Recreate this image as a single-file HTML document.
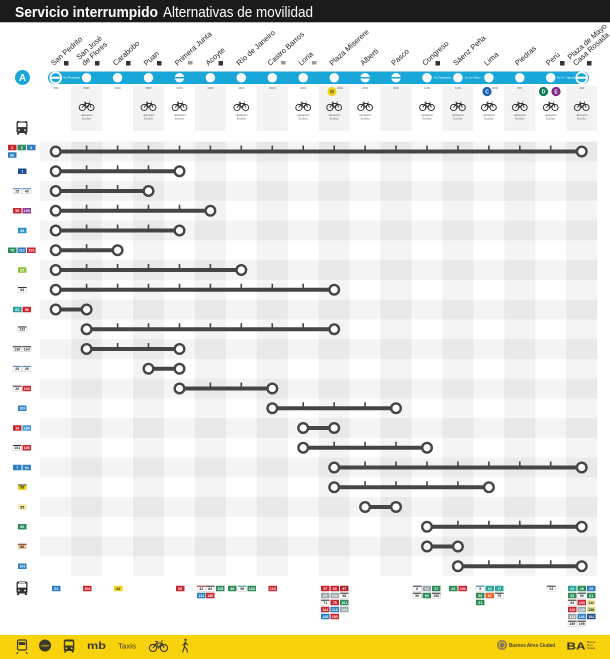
<!DOCTYPE html>
<html><head><meta charset="utf-8">
<style>
html,body{margin:0;padding:0;background:#fff;}
svg{display:block;font-family:"Liberation Sans",sans-serif;}
.l{stroke:#454545;stroke-width:4;fill:none}
.t{stroke:#454545;stroke-width:1.6;fill:none}
.e{fill:#fff;stroke:#454545;stroke-width:2.4}
.st{font-size:7.5px;fill:#222}
.bt{font-size:3.6px;font-weight:bold;fill:#fff;text-anchor:middle}
.bk{font-size:3.6px;font-weight:bold;fill:#222;text-anchor:middle}
.sm{font-size:2.8px;fill:#666;text-anchor:middle}
.bw{fill:#fff;stroke:#bbb;stroke-width:.4}
</style></head><body>
<svg width="610" height="659" viewBox="0 0 610 659">
<!-- title -->
<rect x="0" y="0" width="610" height="22.3" fill="#1b1b1b"/>
<text x="15" y="17" font-size="15" font-weight="bold" fill="#fff" textLength="143" lengthAdjust="spacingAndGlyphs">Servicio interrumpido</text>
<text x="163" y="17" font-size="15" fill="#fff" textLength="150" lengthAdjust="spacingAndGlyphs">Alternativas de movilidad</text>

<!-- header column boxes -->
<g fill="#f3f3f3">
<rect x="71.1" y="86" width="30.94" height="45"/>
<rect x="133" y="86" width="30.94" height="45"/>
<rect x="194.9" y="86" width="30.94" height="45"/>
<rect x="256.8" y="86" width="30.94" height="45"/>
<rect x="318.7" y="86" width="30.94" height="45"/>
<rect x="380.5" y="86" width="30.94" height="45"/>
<rect x="442.4" y="86" width="30.94" height="45"/>
<rect x="504.3" y="86" width="30.94" height="45"/>
<rect x="566.2" y="86" width="30.94" height="45"/>
</g>

<!-- station labels -->
<g class="st">
<text transform="translate(53.7,66) rotate(-42)">San Pedrito</text>
<text transform="translate(84.6,66) rotate(-42)"><tspan x="0" y="-8">San José</tspan><tspan x="0" y="0">de Flores</tspan></text>
<text transform="translate(115.6,66) rotate(-42)">Carabobo</text>
<text transform="translate(146.5,66) rotate(-42)">Puan</text>
<text transform="translate(177.5,66) rotate(-42)">Primera Junta</text>
<text transform="translate(208.4,66) rotate(-42)">Acoyte</text>
<text transform="translate(239.3,66) rotate(-42)">Río de Janeiro</text>
<text transform="translate(270.3,66) rotate(-42)">Castro Barros</text>
<text transform="translate(301.2,66) rotate(-42)">Loria</text>
<text transform="translate(332.2,66) rotate(-42)">Plaza Miserere</text>
<text transform="translate(363.1,66) rotate(-42)">Alberti</text>
<text transform="translate(394,66) rotate(-42)">Pasco</text>
<text transform="translate(425,66) rotate(-42)">Congreso</text>
<text transform="translate(455.9,66) rotate(-42)">Sáenz Peña</text>
<text transform="translate(486.9,66) rotate(-42)">Lima</text>
<text transform="translate(517.8,66) rotate(-42)">Piedras</text>
<text transform="translate(548.7,66) rotate(-42)">Perú</text>
<text transform="translate(575.7,66) rotate(-42)"><tspan x="0" y="-8">Plaza de Mayo</tspan><tspan x="0" y="0">Casa Rosada</tspan></text>
</g>
<!-- accessibility icons -->
<g fill="#333">
<rect x="64" y="61" width="4.5" height="4.5"/>
<rect x="95" y="61" width="4.5" height="4.5"/>
<rect x="126" y="61" width="4.5" height="4.5"/>
<rect x="157" y="61" width="4.5" height="4.5"/>
<rect x="218.5" y="61" width="4.5" height="4.5"/>
<rect x="435.5" y="61" width="4.5" height="4.5"/>
<rect x="560" y="61" width="4.5" height="4.5"/>
<rect x="587" y="61" width="4.5" height="4.5"/>
</g>
<g fill="#999">
<rect x="188" y="61" width="4.5" height="3.5"/>
<rect x="281" y="61" width="4.5" height="3.5"/>
<rect x="312" y="61" width="4.5" height="3.5"/>
</g>

<!-- Line A -->
<circle cx="22.5" cy="77.5" r="7.5" fill="#19a6d8"/>
<text x="22.5" y="81.2" font-size="10" font-weight="bold" fill="#fff" text-anchor="middle">A</text>
<rect x="48" y="71.5" width="541" height="12.5" rx="6.25" fill="#19a6d8"/>
<g fill="#fff">
<circle cx="86.6" cy="77.75" r="4.7"/><circle cx="117.6" cy="77.75" r="4.7"/><circle cx="148.5" cy="77.75" r="4.7"/>
<circle cx="179.5" cy="77.75" r="4.7"/><circle cx="210.4" cy="77.75" r="4.7"/><circle cx="241.3" cy="77.75" r="4.7"/>
<circle cx="272.3" cy="77.75" r="4.7"/><circle cx="303.2" cy="77.75" r="4.7"/><circle cx="334.2" cy="77.75" r="4.7"/>
<circle cx="365.1" cy="77.75" r="4.7"/><circle cx="396" cy="77.75" r="4.7"/><circle cx="427" cy="77.75" r="4.7"/>
<circle cx="457.9" cy="77.75" r="4.7"/><circle cx="488.9" cy="77.75" r="4.7"/><circle cx="519.8" cy="77.75" r="4.7"/>
<circle cx="550.7" cy="77.75" r="4.7"/>
<circle cx="55.7" cy="77.75" r="6.3"/><circle cx="581.7" cy="77.75" r="6.3"/>
</g>
<g fill="#19a6d8">
<circle cx="55.7" cy="77.75" r="4.6"/><circle cx="581.7" cy="77.75" r="4.6"/>
<rect x="174.8" y="77" width="9.4" height="1.5"/>
<rect x="360.4" y="77" width="9.4" height="1.5"/>
<rect x="391.3" y="77" width="9.4" height="1.5"/>
</g>
<g fill="#fff">
<rect x="51.2" y="76.7" width="9" height="2.1"/><rect x="577.2" y="76.7" width="9" height="2.1"/>
</g>
<g font-size="2.8" fill="#fff">
<text x="63" y="78.7">Av. Rivadavia</text>
<text x="434" y="78.7">Av. Rivadavia</text>
<text x="465" y="78.7">Av. de Mayo</text>
<text x="557" y="78.7">Av. H. Yrigoyen</text>
</g>
<g class="sm">
<text x="55.7" y="89">7000</text><text x="86.6" y="89">6900</text><text x="117.6" y="89">6400</text>
<text x="148.5" y="89">5900</text><text x="179.5" y="89">5400</text><text x="210.4" y="89">4900</text>
<text x="241.3" y="89">4400</text><text x="272.3" y="89">3900</text><text x="303.2" y="89">3400</text>
<text x="340" y="89">2900</text><text x="365.1" y="89">2400</text><text x="396" y="89">1900</text>
<text x="427" y="89">1400</text><text x="457.9" y="89">1200</text><text x="495" y="89">1000</text>
<text x="519.8" y="89">800</text><text x="557" y="89">600</text><text x="581.7" y="89">400</text>
</g>
<circle cx="332" cy="91.5" r="4.6" fill="#f2d31b"/><text x="332" y="93.3" font-size="5" font-weight="bold" fill="#333" text-anchor="middle">H</text>
<circle cx="487" cy="91.5" r="4.6" fill="#1b5fae"/><text x="487" y="93.3" font-size="5" font-weight="bold" fill="#fff" text-anchor="middle">C</text>
<circle cx="543.5" cy="91.5" r="4.6" fill="#0f7d5a"/><text x="543.5" y="93.3" font-size="5" font-weight="bold" fill="#fff" text-anchor="middle">D</text>
<circle cx="556" cy="91.5" r="4.6" fill="#7d2a8c"/><text x="556" y="93.3" font-size="5" font-weight="bold" fill="#fff" text-anchor="middle">E</text>

<!-- bikes -->
<defs>
<g id="bike" fill="none" stroke="#333" stroke-width="1">
<circle cx="-4.3" cy="1.5" r="3.1"/><circle cx="4.3" cy="1.5" r="3.1"/>
<path d="M-4.3 1.5 L-1.5 -2.5 L3 -2.5 L4.3 1.5 M-1.5 -2.5 L0 1.5 L3 -2.5 M-2.5 -3.8 H-0.5 M2.5 -4 L3.5 -4"/>
</g>
</defs>
<g>
<use href="#bike" x="86.6" y="106"/><use href="#bike" x="148.5" y="106"/><use href="#bike" x="179.5" y="106"/>
<use href="#bike" x="241.3" y="106"/><use href="#bike" x="303.2" y="106"/><use href="#bike" x="334.2" y="106"/>
<use href="#bike" x="365.1" y="106"/><use href="#bike" x="427" y="106"/><use href="#bike" x="457.9" y="106"/>
<use href="#bike" x="488.9" y="106"/><use href="#bike" x="519.8" y="106"/><use href="#bike" x="550.7" y="106"/>
<use href="#bike" x="581.7" y="106"/>
</g>
<g class="sm" fill="#777">
<text x="86.6" y="116">+Estación</text><text x="86.6" y="119.5">Ecobici</text>
<text x="148.5" y="116">+Estación</text><text x="148.5" y="119.5">Ecobici</text>
<text x="179.5" y="116">+Estación</text><text x="179.5" y="119.5">Ecobici</text>
<text x="241.3" y="116">+Estación</text><text x="241.3" y="119.5">Ecobici</text>
<text x="303.2" y="116">+Estación</text><text x="303.2" y="119.5">Ecobici</text>
<text x="334.2" y="116">+Estación</text><text x="334.2" y="119.5">Ecobici</text>
<text x="365.1" y="116">+Estación</text><text x="365.1" y="119.5">Ecobici</text>
<text x="427" y="116">+Estación</text><text x="427" y="119.5">Ecobici</text>
<text x="457.9" y="116">+Estación</text><text x="457.9" y="119.5">Ecobici</text>
<text x="488.9" y="116">+Estación</text><text x="488.9" y="119.5">Ecobici</text>
<text x="519.8" y="116">+Estación</text><text x="519.8" y="119.5">Ecobici</text>
<text x="550.7" y="116">+Estación</text><text x="550.7" y="119.5">Ecobici</text>
<text x="581.7" y="116">+Estación</text><text x="581.7" y="119.5">Ecobici</text>
</g>

<!-- bus icons -->
<defs>
<g id="bus">
<rect x="-5.5" y="-6.5" width="11" height="12" rx="2" fill="#333"/>
<rect x="-4.2" y="-4.6" width="8.4" height="4.2" fill="#fff"/>
<rect x="-3" y="-6" width="6" height="0.8" fill="#fff"/>
<circle cx="-3" cy="2.5" r="0.9" fill="#fff"/><circle cx="3" cy="2.5" r="0.9" fill="#fff"/>
<rect x="-5" y="5.5" width="2.2" height="1.5" fill="#333"/><rect x="2.8" y="5.5" width="2.2" height="1.5" fill="#333"/>
</g>
</defs>
<use href="#bus" x="22" y="127.5"/>
<use href="#bus" x="22" y="588"/>

<!-- chart stripes -->
<g fill="#000" fill-opacity=".045">
<rect x="40" y="141.625" width="557.5" height="19.75"/>
<rect x="40" y="181.125" width="557.5" height="19.75"/>
<rect x="40" y="220.625" width="557.5" height="19.75"/>
<rect x="40" y="260.125" width="557.5" height="19.75"/>
<rect x="40" y="299.625" width="557.5" height="19.75"/>
<rect x="40" y="339.125" width="557.5" height="19.75"/>
<rect x="40" y="378.625" width="557.5" height="19.75"/>
<rect x="40" y="418.125" width="557.5" height="19.75"/>
<rect x="40" y="457.625" width="557.5" height="19.75"/>
<rect x="40" y="497.125" width="557.5" height="19.75"/>
<rect x="40" y="536.625" width="557.5" height="19.75"/>
<rect x="71.1" y="141.6" width="30.94" height="434.5"/>
<rect x="133" y="141.6" width="30.94" height="434.5"/>
<rect x="194.9" y="141.6" width="30.94" height="434.5"/>
<rect x="256.8" y="141.6" width="30.94" height="434.5"/>
<rect x="318.7" y="141.6" width="30.94" height="434.5"/>
<rect x="380.5" y="141.6" width="30.94" height="434.5"/>
<rect x="442.4" y="141.6" width="30.94" height="434.5"/>
<rect x="504.3" y="141.6" width="30.94" height="434.5"/>
<rect x="566.2" y="141.6" width="30.94" height="434.5"/>
</g>

<!-- routes -->
<g class="l">
<path d="M55.7 151.5H581.7"/>
<path d="M55.7 171.25H179.5"/>
<path d="M55.7 191H148.5"/>
<path d="M55.7 210.75H210.4"/>
<path d="M55.7 230.5H179.5"/>
<path d="M55.7 250.25H117.6"/>
<path d="M55.7 270H241.3"/>
<path d="M55.7 289.75H334.2"/>
<path d="M55.7 309.5H86.6"/>
<path d="M86.6 329.25H334.2"/>
<path d="M86.6 349H179.5"/>
<path d="M148.5 368.75H179.5"/>
<path d="M179.5 388.5H272.3"/>
<path d="M272.3 408.25H396"/>
<path d="M303.2 428H334.2"/>
<path d="M303.2 447.75H427"/>
<path d="M334.2 467.5H581.7"/>
<path d="M334.2 487.25H488.9"/>
<path d="M365.1 507H396"/>
<path d="M427 526.75H581.7"/>
<path d="M427 546.5H457.9"/>
<path d="M457.9 566.25H581.7"/>
</g>
<g class="t">
<path d="M86.6 145.5v6M117.6 145.5v6M148.5 145.5v6M179.5 145.5v6M210.4 145.5v6M241.3 145.5v6M272.3 145.5v6M303.2 145.5v6M334.2 145.5v6M365.1 145.5v6M396 145.5v6M427 145.5v6M457.9 145.5v6M488.9 145.5v6M519.8 145.5v6M550.7 145.5v6"/>
<path d="M86.6 165.25v6M117.6 165.25v6M148.5 165.25v6"/>
<path d="M86.6 185v6M117.6 185v6"/>
<path d="M86.6 204.75v6M117.6 204.75v6M148.5 204.75v6M179.5 204.75v6"/>
<path d="M86.6 224.5v6M117.6 224.5v6M148.5 224.5v6"/>
<path d="M86.6 244.25v6"/>
<path d="M86.6 264v6M117.6 264v6M148.5 264v6M179.5 264v6M210.4 264v6"/>
<path d="M86.6 283.75v6M117.6 283.75v6M148.5 283.75v6M179.5 283.75v6M210.4 283.75v6M241.3 283.75v6M272.3 283.75v6M303.2 283.75v6"/>
<path d="M117.6 323.25v6M148.5 323.25v6M179.5 323.25v6M210.4 323.25v6M241.3 323.25v6M272.3 323.25v6M303.2 323.25v6"/>
<path d="M117.6 343v6M148.5 343v6"/>
<path d="M210.4 382.5v6M241.3 382.5v6"/>
<path d="M303.2 402.25v6M334.2 402.25v6M365.1 402.25v6"/>
<path d="M334.2 441.75v6M365.1 441.75v6M396 441.75v6"/>
<path d="M365.1 461.5v6M396 461.5v6M427 461.5v6M457.9 461.5v6M488.9 461.5v6M519.8 461.5v6M550.7 461.5v6"/>
<path d="M365.1 481.25v6M396 481.25v6M427 481.25v6M457.9 481.25v6"/>
<path d="M457.9 520.75v6M488.9 520.75v6M519.8 520.75v6M550.7 520.75v6"/>
<path d="M488.9 560.25v6M519.8 560.25v6M550.7 560.25v6"/>
</g>
<g class="e">
<circle cx="55.7" cy="151.5" r="4.8"/><circle cx="581.7" cy="151.5" r="4.8"/>
<circle cx="55.7" cy="171.25" r="4.8"/><circle cx="179.5" cy="171.25" r="4.8"/>
<circle cx="55.7" cy="191" r="4.8"/><circle cx="148.5" cy="191" r="4.8"/>
<circle cx="55.7" cy="210.75" r="4.8"/><circle cx="210.4" cy="210.75" r="4.8"/>
<circle cx="55.7" cy="230.5" r="4.8"/><circle cx="179.5" cy="230.5" r="4.8"/>
<circle cx="55.7" cy="250.25" r="4.8"/><circle cx="117.6" cy="250.25" r="4.8"/>
<circle cx="55.7" cy="270" r="4.8"/><circle cx="241.3" cy="270" r="4.8"/>
<circle cx="55.7" cy="289.75" r="4.8"/><circle cx="334.2" cy="289.75" r="4.8"/>
<circle cx="55.7" cy="309.5" r="4.8"/><circle cx="86.6" cy="309.5" r="4.8"/>
<circle cx="86.6" cy="329.25" r="4.8"/><circle cx="334.2" cy="329.25" r="4.8"/>
<circle cx="86.6" cy="349" r="4.8"/><circle cx="179.5" cy="349" r="4.8"/>
<circle cx="148.5" cy="368.75" r="4.8"/><circle cx="179.5" cy="368.75" r="4.8"/>
<circle cx="179.5" cy="388.5" r="4.8"/><circle cx="272.3" cy="388.5" r="4.8"/>
<circle cx="272.3" cy="408.25" r="4.8"/><circle cx="396" cy="408.25" r="4.8"/>
<circle cx="303.2" cy="428" r="4.8"/><circle cx="334.2" cy="428" r="4.8"/>
<circle cx="303.2" cy="447.75" r="4.8"/><circle cx="427" cy="447.75" r="4.8"/>
<circle cx="334.2" cy="467.5" r="4.8"/><circle cx="581.7" cy="467.5" r="4.8"/>
<circle cx="334.2" cy="487.25" r="4.8"/><circle cx="488.9" cy="487.25" r="4.8"/>
<circle cx="365.1" cy="507" r="4.8"/><circle cx="396" cy="507" r="4.8"/>
<circle cx="427" cy="526.75" r="4.8"/><circle cx="581.7" cy="526.75" r="4.8"/>
<circle cx="427" cy="546.5" r="4.8"/><circle cx="457.9" cy="546.5" r="4.8"/>
<circle cx="457.9" cy="566.25" r="4.8"/><circle cx="581.7" cy="566.25" r="4.8"/>
</g>

<!-- left badges -->
<g>
<rect x="8" y="144.75" width="8.5" height="5.5" fill="#c9252f"/><text x="12.25" y="148.8" class="bt">2</text>
<rect x="17.5" y="144.75" width="8.5" height="5.5" fill="#2e8b57"/><text x="21.75" y="148.8" class="bt">5</text>
<rect x="27" y="144.75" width="8.5" height="5.5" fill="#2b7fc1"/><text x="31.25" y="148.8" class="bt">8</text>
<rect x="8" y="152.25" width="8.5" height="5.5" fill="#2b7fc1"/><text x="12.25" y="156.3" class="bt">86</text>

<rect x="18" y="168.5" width="8.5" height="5.5" fill="#1f4e8c"/><text x="22.25" y="172.55" class="bt">1</text>

<rect x="13" y="188.25" width="8.5" height="5.5" class="bw"/><rect x="13" y="188.25" width="8.5" height="1" fill="#5a8fc4"/><text x="17.25" y="192.3" class="bk">25</text>
<rect x="22.5" y="188.25" width="8.5" height="5.5" class="bw"/><rect x="22.5" y="188.25" width="8.5" height="1" fill="#5a8fc4"/><text x="26.75" y="192.3" class="bk">49</text>

<rect x="13" y="208" width="8.5" height="5.5" fill="#c9252f"/><text x="17.25" y="212.05" class="bt">55</text>
<rect x="22.5" y="208" width="8.5" height="5.5" fill="#8a3c96"/><text x="26.75" y="212.05" class="bt">105</text>

<rect x="18" y="227.75" width="8.5" height="5.5" fill="#2b8fc9"/><text x="22.25" y="231.8" class="bt">53</text>

<rect x="8" y="247.5" width="8.5" height="5.5" fill="#2e8b57"/><text x="12.25" y="251.55" class="bt">76</text>
<rect x="17.5" y="247.5" width="8.5" height="5.5" fill="#2b7fc1"/><text x="21.75" y="251.55" class="bt">113</text>
<rect x="27" y="247.5" width="8.5" height="5.5" fill="#c9252f"/><text x="31.25" y="251.55" class="bt">123</text>

<rect x="18" y="267.25" width="8.5" height="5.5" fill="#8fbf3c"/><text x="22.25" y="271.3" class="bt">85</text>

<rect x="18" y="287" width="8.5" height="5.5" class="bw"/><rect x="18" y="287" width="8.5" height="1" fill="#333"/><text x="22.25" y="291.05" class="bk">84</text>

<rect x="13" y="306.75" width="8.5" height="5.5" fill="#2aa39a"/><text x="17.25" y="310.8" class="bt">63</text>
<rect x="22.5" y="306.75" width="8.5" height="5.5" fill="#c9252f"/><text x="26.75" y="310.8" class="bt">99</text>

<rect x="18" y="326.5" width="8.5" height="5.5" class="bw"/><rect x="18" y="326.5" width="8.5" height="1" fill="#333"/><text x="22.25" y="330.55" class="bk">132</text>

<rect x="13" y="346.25" width="8.5" height="5.5" class="bw"/><rect x="13" y="346.25" width="8.5" height="1" fill="#333"/><text x="17.25" y="350.3" class="bk">136</text>
<rect x="22.5" y="346.25" width="8.5" height="5.5" class="bw"/><rect x="22.5" y="346.25" width="8.5" height="1" fill="#333"/><text x="26.75" y="350.3" class="bk">163</text>

<rect x="13" y="366" width="8.5" height="5.5" class="bw"/><rect x="13" y="366" width="8.5" height="1" fill="#5a8fc4"/><text x="17.25" y="370.05" class="bk">25</text>
<rect x="22.5" y="366" width="8.5" height="5.5" class="bw"/><rect x="22.5" y="366" width="8.5" height="1" fill="#5a8fc4"/><text x="26.75" y="370.05" class="bk">49</text>

<rect x="13" y="385.75" width="8.5" height="5.5" class="bw"/><rect x="13" y="385.75" width="8.5" height="1" fill="#333"/><text x="17.25" y="389.8" class="bk">26</text>
<rect x="22.5" y="385.75" width="8.5" height="5.5" fill="#c9252f"/><text x="26.75" y="389.8" class="bt">103</text>

<rect x="18" y="405.5" width="8.5" height="5.5" fill="#2b7fc1"/><text x="22.25" y="409.55" class="bt">109</text>

<rect x="13" y="425.25" width="8.5" height="5.5" fill="#c9252f"/><text x="17.25" y="429.3" class="bt">19</text>
<rect x="22.5" y="425.25" width="8.5" height="5.5" fill="#3a9ad6"/><text x="26.75" y="429.3" class="bt">184</text>

<rect x="13" y="445" width="8.5" height="5.5" class="bw"/><rect x="13" y="445" width="8.5" height="1" fill="#333"/><text x="17.25" y="449.05" class="bk">151</text>
<rect x="22.5" y="445" width="8.5" height="5.5" fill="#c9252f"/><text x="26.75" y="449.05" class="bt">180</text>

<rect x="13" y="464.75" width="8.5" height="5.5" fill="#2b7fc1"/><text x="17.25" y="468.8" class="bt">7</text>
<rect x="22.5" y="464.75" width="8.5" height="5.5" fill="#2b7fc1"/><text x="26.75" y="468.8" class="bt">64</text>

<rect x="18" y="484.5" width="8.5" height="5.5" fill="#f2d31b"/><rect x="18" y="484.5" width="8.5" height="1" fill="#333"/><text x="22.25" y="488.55" class="bk">98</text>

<rect x="18" y="504.25" width="8.5" height="5.5" fill="#f3e7a4"/><text x="22.25" y="508.3" class="bk">95</text>

<rect x="18" y="524" width="8.5" height="5.5" fill="#2e8b57"/><text x="22.25" y="528.05" class="bt">56</text>

<rect x="18" y="543.75" width="8.5" height="5.5" fill="#e9c99a"/><rect x="18" y="543.75" width="8.5" height="1" fill="#8a2b1a"/><text x="22.25" y="547.8" class="bk">86</text>

<rect x="18" y="563.5" width="8.5" height="5.5" fill="#2b7fc1"/><text x="22.25" y="567.55" class="bt">103</text>
</g>

<!-- bottom badges -->
<g>
<rect x="52" y="585.75" width="8.5" height="5.5" fill="#2b7fc1"/><text x="56.25" y="589.8" class="bt">63</text>
<rect x="83" y="585.75" width="8.5" height="5.5" fill="#c9252f"/><text x="87.25" y="589.8" class="bt">104</text>
<rect x="114" y="585.75" width="8.5" height="5.5" fill="#f2d31b"/><text x="118.25" y="589.8" class="bk">41</text>
<rect x="176" y="585.75" width="8.5" height="5.5" fill="#c9252f"/><text x="180.25" y="589.8" class="bt">96</text>

<rect x="197" y="585.75" width="8.5" height="5.5" class="bw"/><rect x="197" y="585.75" width="8.5" height="1" fill="#c9252f"/><text x="201.25" y="589.8" class="bk">42</text>
<rect x="206" y="585.75" width="8.5" height="5.5" class="bw"/><rect x="206" y="585.75" width="8.5" height="1" fill="#333"/><text x="210.25" y="589.8" class="bk">84</text>
<rect x="216" y="585.75" width="8.5" height="5.5" fill="#2e8b57"/><text x="220.25" y="589.8" class="bt">105</text>
<rect x="228" y="585.75" width="8.5" height="5.5" fill="#2e8b57"/><text x="232.25" y="589.8" class="bt">85</text>
<rect x="238" y="585.75" width="8.5" height="5.5" class="bw"/><rect x="238" y="585.75" width="8.5" height="1" fill="#2aa39a"/><text x="242.25" y="589.8" class="bk">98</text>
<rect x="247.5" y="585.75" width="8.5" height="5.5" fill="#2e8b57"/><text x="251.75" y="589.8" class="bt">128</text>
<rect x="197" y="592.75" width="8.5" height="5.5" fill="#2b7fc1"/><text x="201.25" y="596.8" class="bt">132</text>
<rect x="206" y="592.75" width="8.5" height="5.5" fill="#c9252f"/><text x="210.25" y="596.8" class="bt">180</text>

<rect x="268.5" y="585.75" width="8.5" height="5.5" fill="#c9252f"/><text x="272.75" y="589.8" class="bt">103</text>

<!-- Plaza Miserere -->
<rect x="321" y="585.75" width="8.5" height="5.5" fill="#c9252f"/><text x="325.25" y="589.8" class="bt">37</text>
<rect x="330.5" y="585.75" width="8.5" height="5.5" fill="#c9252f"/><text x="334.75" y="589.8" class="bt">60</text>
<rect x="340" y="585.75" width="8.5" height="5.5" fill="#b8202c"/><text x="344.25" y="589.8" class="bt">97</text>
<rect x="321" y="592.75" width="8.5" height="5.5" fill="#9aa5a8"/><text x="325.25" y="596.8" class="bt">68</text>
<rect x="330.5" y="592.75" width="8.5" height="5.5" fill="#9aa5a8"/><text x="334.75" y="596.8" class="bt">102</text>
<rect x="340" y="592.75" width="8.5" height="5.5" class="bw"/><rect x="340" y="592.75" width="8.5" height="1" fill="#333"/><text x="344.25" y="596.8" class="bk">98</text>
<rect x="321" y="599.75" width="8.5" height="5.5" class="bw"/><rect x="321" y="599.75" width="8.5" height="1" fill="#333"/><text x="325.25" y="603.8" class="bk">71</text>
<rect x="330.5" y="599.75" width="8.5" height="5.5" fill="#c9252f"/><text x="334.75" y="603.8" class="bt">75</text>
<rect x="340" y="599.75" width="8.5" height="5.5" fill="#2e8b57"/><text x="344.25" y="603.8" class="bt">101</text>
<rect x="321" y="606.75" width="8.5" height="5.5" fill="#c9252f"/><text x="325.25" y="610.8" class="bt">141</text>
<rect x="330.5" y="606.75" width="8.5" height="5.5" fill="#2b7fc1"/><text x="334.75" y="610.8" class="bt">118</text>
<rect x="340" y="606.75" width="8.5" height="5.5" fill="#9aa5a8"/><text x="344.25" y="610.8" class="bt">124</text>
<rect x="321" y="613.75" width="8.5" height="5.5" fill="#2b7fc1"/><text x="325.25" y="617.8" class="bt">140</text>
<rect x="330.5" y="613.75" width="8.5" height="5.5" fill="#c9252f"/><text x="334.75" y="617.8" class="bt">180</text>

<!-- Congreso -->
<rect x="413" y="585.75" width="8.5" height="5.5" class="bw"/><rect x="413" y="585.75" width="8.5" height="1" fill="#333"/><text x="417.25" y="589.8" class="bk">6</text>
<rect x="422.5" y="585.75" width="8.5" height="5.5" fill="#9aa5a8"/><text x="426.75" y="589.8" class="bt">12</text>
<rect x="432" y="585.75" width="8.5" height="5.5" fill="#2e8b57"/><text x="436.25" y="589.8" class="bt">37</text>
<rect x="413" y="592.75" width="8.5" height="5.5" class="bw"/><rect x="413" y="592.75" width="8.5" height="1" fill="#333"/><text x="417.25" y="596.8" class="bk">50</text>
<rect x="422.5" y="592.75" width="8.5" height="5.5" fill="#2e8b57"/><text x="426.75" y="596.8" class="bt">90</text>
<rect x="432" y="592.75" width="8.5" height="5.5" class="bw"/><rect x="432" y="592.75" width="8.5" height="1" fill="#333"/><text x="436.25" y="596.8" class="bk">150</text>

<rect x="449" y="585.75" width="8.5" height="5.5" fill="#2e8b57"/><text x="453.25" y="589.8" class="bt">23</text>
<rect x="458.5" y="585.75" width="8.5" height="5.5" fill="#c9252f"/><text x="462.75" y="589.8" class="bt">102</text>

<!-- Lima -->
<rect x="476" y="585.75" width="8.5" height="5.5" class="bw"/><rect x="476" y="585.75" width="8.5" height="1" fill="#2b7fc1"/><text x="480.25" y="589.8" class="bk">9</text>
<rect x="485.5" y="585.75" width="8.5" height="5.5" fill="#2aa39a"/><text x="489.75" y="589.8" class="bt">10</text>
<rect x="495" y="585.75" width="8.5" height="5.5" fill="#2aa39a"/><text x="499.25" y="589.8" class="bt">17</text>
<rect x="476" y="592.75" width="8.5" height="5.5" fill="#2e8b57"/><text x="480.25" y="596.8" class="bt">59</text>
<rect x="485.5" y="592.75" width="8.5" height="5.5" fill="#e8632a"/><text x="489.75" y="596.8" class="bt">67</text>
<rect x="495" y="592.75" width="8.5" height="5.5" class="bw"/><rect x="495" y="592.75" width="8.5" height="1" fill="#333"/><text x="499.25" y="596.8" class="bk">75</text>
<rect x="476" y="599.75" width="8.5" height="5.5" fill="#2e8b57"/><text x="480.25" y="603.8" class="bt">91</text>

<rect x="547" y="585.75" width="8.5" height="5.5" class="bw"/><rect x="547" y="585.75" width="8.5" height="1" fill="#333"/><text x="551.25" y="589.8" class="bk">24</text>

<!-- Plaza de Mayo -->
<rect x="568" y="585.75" width="8.5" height="5.5" fill="#2aa39a"/><text x="572.25" y="589.8" class="bt">22</text>
<rect x="577.5" y="585.75" width="8.5" height="5.5" fill="#2e8b57"/><text x="581.75" y="589.8" class="bt">28</text>
<rect x="587" y="585.75" width="8.5" height="5.5" fill="#2b7fc1"/><text x="591.25" y="589.8" class="bt">29</text>
<rect x="568" y="592.75" width="8.5" height="5.5" fill="#2e8b57"/><text x="572.25" y="596.8" class="bt">33</text>
<rect x="577.5" y="592.75" width="8.5" height="5.5" class="bw"/><rect x="577.5" y="592.75" width="8.5" height="1" fill="#333"/><text x="581.75" y="596.8" class="bk">50</text>
<rect x="587" y="592.75" width="8.5" height="5.5" fill="#2e8b57"/><text x="591.25" y="596.8" class="bt">61</text>
<rect x="568" y="599.75" width="8.5" height="5.5" class="bw"/><rect x="568" y="599.75" width="8.5" height="1" fill="#333"/><text x="572.25" y="603.8" class="bk">93</text>
<rect x="577.5" y="599.75" width="8.5" height="5.5" fill="#c9252f"/><text x="581.75" y="603.8" class="bt">103</text>
<rect x="587" y="599.75" width="8.5" height="5.5" fill="#f3e7a4"/><text x="591.25" y="603.8" class="bk">111</text>
<rect x="568" y="606.75" width="8.5" height="5.5" fill="#c9252f"/><text x="572.25" y="610.8" class="bt">126</text>
<rect x="577.5" y="606.75" width="8.5" height="5.5" fill="#9aa5a8"/><text x="581.75" y="610.8" class="bt">129</text>
<rect x="587" y="606.75" width="8.5" height="5.5" fill="#d8e08a"/><text x="591.25" y="610.8" class="bk">130</text>
<rect x="568" y="613.75" width="8.5" height="5.5" fill="#9aa5a8"/><text x="572.25" y="617.8" class="bt">143</text>
<rect x="577.5" y="613.75" width="8.5" height="5.5" fill="#2b7fc1"/><text x="581.75" y="617.8" class="bt">146</text>
<rect x="587" y="613.75" width="8.5" height="5.5" fill="#1f4e8c"/><text x="591.25" y="617.8" class="bt">152</text>
<rect x="568" y="620.75" width="8.5" height="5.5" class="bw"/><rect x="568" y="620.75" width="8.5" height="1" fill="#333"/><text x="572.25" y="624.8" class="bk">159</text>
<rect x="577.5" y="620.75" width="8.5" height="5.5" class="bw"/><rect x="577.5" y="620.75" width="8.5" height="1" fill="#333"/><text x="581.75" y="624.8" class="bk">195</text>
</g>

<!-- footer -->
<rect x="0" y="635" width="610" height="24" fill="#f8d20c"/>
<g fill="#3d3a2c" stroke="none">
<!-- train -->
<rect x="17.5" y="640" width="9" height="10" rx="1.5" fill="none" stroke="#3d3a2c" stroke-width="1.2"/>
<rect x="18.8" y="642" width="6.4" height="3" fill="#3d3a2c"/>
<path d="M18 652 L16.5 654 M26 652 L27.5 654" stroke="#3d3a2c" stroke-width="1"/>
<!-- subte -->
<circle cx="45" cy="645.5" r="6" fill="#3d3a2c"/>
<text x="45" y="646.6" font-size="3" fill="#f8d20c" text-anchor="middle" font-weight="bold">subte</text>
<!-- bus -->
<rect x="63.8" y="639.5" width="10.5" height="11.5" rx="2" fill="#3d3a2c"/>
<rect x="65.2" y="641.5" width="7.7" height="4" fill="#f8d20c"/>
<circle cx="66.3" cy="648.3" r="0.9" fill="#f8d20c"/><circle cx="71.8" cy="648.3" r="0.9" fill="#f8d20c"/>
<rect x="64.3" y="651" width="2" height="1.5"/><rect x="71.8" y="651" width="2" height="1.5"/>
<!-- mb -->
<text x="87" y="649" font-size="10" font-weight="bold" fill="#3d3a2c" textLength="19" lengthAdjust="spacingAndGlyphs">mb</text>
<text x="118" y="648.5" font-size="7" fill="#3d3a2c" textLength="18" lengthAdjust="spacingAndGlyphs">Taxis</text>
</g>
<g fill="none" stroke="#3d3a2c" stroke-width="1.1">
<circle cx="153" cy="648" r="3.6"/><circle cx="164" cy="648" r="3.6"/>
<path d="M153 648 L156.5 643 L162 643 L164 648 M156.5 643 L158.5 648 L162 643 M155 641.5 H158 M161 641 H163"/>
<!-- walker -->
<circle cx="185.5" cy="639.8" r="1.2" fill="#3d3a2c" stroke="none"/>
<path d="M185.3 641.5 L184.5 646.5 L182.5 652.5 M184.5 646.5 L187 649.5 L187.5 652.5 M185.2 642.5 L182.8 645.5 M185.2 642.5 L188 645"/>
</g>
<circle cx="502" cy="645" r="5" fill="#8a7a52"/>
<circle cx="502" cy="645" r="3" fill="none" stroke="#f8d20c" stroke-width=".8"/>
<text x="509" y="646.8" font-size="5" font-weight="bold" fill="#4a4432" textLength="46" lengthAdjust="spacingAndGlyphs">Buenos Aires Ciudad</text>
<text x="566.5" y="649.5" font-size="10" font-weight="bold" fill="#333" textLength="19" lengthAdjust="spacingAndGlyphs">BA</text>
<text x="587" y="643" font-size="2.5" fill="#333">Buenos</text>
<text x="587" y="646" font-size="2.5" fill="#333">Aires</text>
<text x="587" y="649" font-size="2.5" fill="#333">Ciudad</text>
</svg>
</body></html>
